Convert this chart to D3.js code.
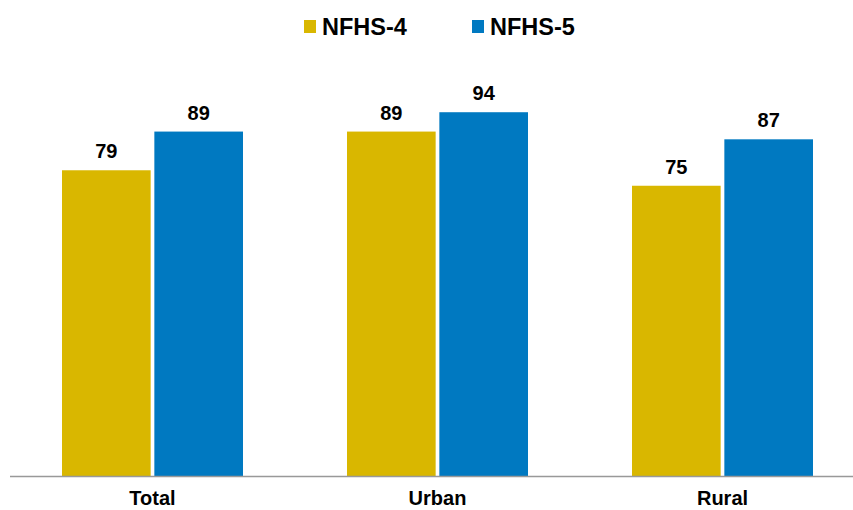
<!DOCTYPE html>
<html><head><meta charset="utf-8">
<script src="https://cdn.jsdelivr.net/npm/d3@7"></script>
<style>body{margin:0;background:#fff}svg{display:block}text{font-family:"Liberation Sans",Arial,sans-serif;font-weight:bold;fill:#000}</style>
</head><body>
<script>
const categories = ["Total", "Urban", "Rural"];
const seriesNames = ["NFHS-4", "NFHS-5"];
const nfhs4 = [79, 89, 75];
const nfhs5 = [89, 94, 87];
const colors = ["#D9B700", "#0079C1"];

const W = 853, H = 510;
const svg = d3.select("body").append("svg").attr("width", W).attr("height", H);
const baseY = 476;
const y = d3.scaleLinear().domain([0, 100]).range([baseY, baseY - 387]);
const x0 = d3.scaleBand().domain(categories).range([10, 865]);
const x1 = d3.scaleBand().domain(seriesNames).range([0, 181]).paddingInner(0.04);
const vals = [nfhs4, nfhs5];

const g = svg.append("g");
categories.forEach((c, i) => {
  const cx = x0(c) + x0.bandwidth() / 2;
  const gx = cx - 90.5;
  seriesNames.forEach((s, j) => {
    const v = vals[j][i];
    g.append("rect").attr("x", gx + x1(s)).attr("y", y(v))
      .attr("width", x1.bandwidth()).attr("height", y(0) - y(v))
      .attr("fill", colors[j]);
    g.append("text").attr("x", gx + x1(s) + x1.bandwidth() / 2).attr("y", y(v) - 12)
      .attr("text-anchor", "middle").attr("font-size", 20).text(v);
  });
});

// axis
const axis = svg.append("g").attr("transform", `translate(0,${baseY})`)
  .call(d3.axisBottom(x0).tickSize(0).tickPadding(15));
axis.select(".domain").attr("stroke", "#999").attr("stroke-width", 1.3).attr("d", "M10,0.5H853");
axis.selectAll("text").attr("font-size", 20).attr("font-family", "Liberation Sans, Arial, sans-serif").attr("font-weight", "bold").attr("fill", "#000");

// legend
const leg = svg.append("g");
const legX = [304, 472];
seriesNames.forEach((s, j) => {
  leg.append("rect").attr("x", legX[j]).attr("y", 20).attr("width", 12).attr("height", 13).attr("fill", colors[j]);
  leg.append("text").attr("x", legX[j] + 18).attr("y", 35).attr("font-size", 23.5).text(s);
});
</script>
</body></html>
